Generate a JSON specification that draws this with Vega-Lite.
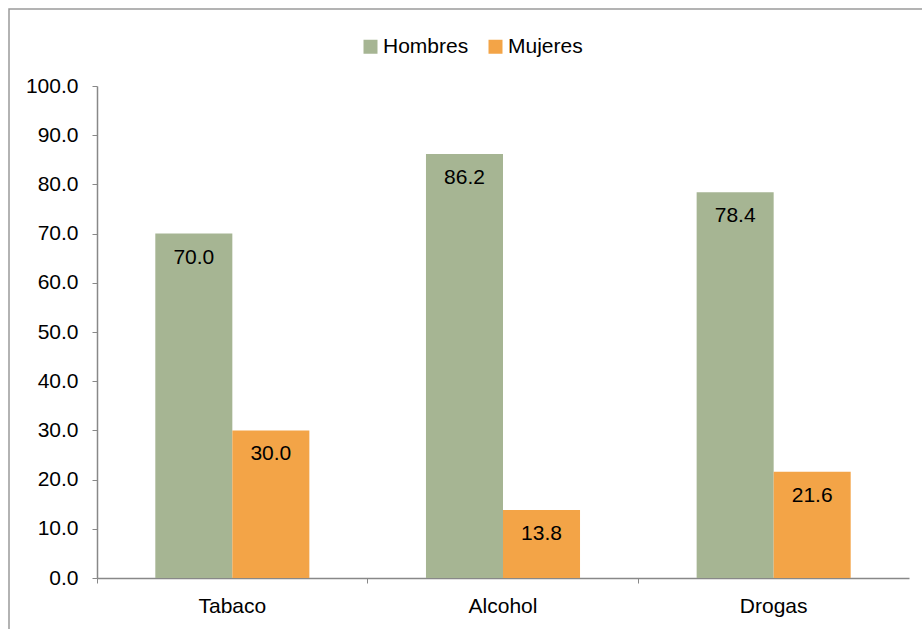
{
  "$schema": "https://vega.github.io/schema/vega-lite/v6.json",
  "width": 920,
  "height": 625,
  "autosize": {"type": "none"},
  "padding": {"left": 9, "top": 9, "right": 0, "bottom": 0},
  "background": "white",
  "config": {
    "view": {"stroke": "#9a9a9a", "strokeWidth": 1.5},
    "font": "Liberation Sans",
    "axis": {"labelFont": "Liberation Sans", "labelColor": "#000000", "labelFontSize": 21, "domainColor": "#888888", "tickColor": "#888888", "grid": false, "title": null}
  },
  "data": {
    "values": [
      {"cat": "Tabaco", "sexo": "Hombres", "valor": 70.0},
      {"cat": "Tabaco", "sexo": "Mujeres", "valor": 30.0},
      {"cat": "Alcohol", "sexo": "Hombres", "valor": 86.2},
      {"cat": "Alcohol", "sexo": "Mujeres", "valor": 13.8},
      {"cat": "Drogas", "sexo": "Hombres", "valor": 78.4},
      {"cat": "Drogas", "sexo": "Mujeres", "valor": 21.6}
    ]
  },
  "encoding": {
    "x": {
      "field": "cat", "type": "nominal", "sort": ["Tabaco", "Alcohol", "Drogas"],
      "scale": {"range": [88, 900], "paddingInner": 0, "paddingOuter": 0},
      "axis": {"offset": -56, "labelAngle": 0, "bandPosition": 0, "tickSize": 5, "labelPadding": 12, "domainWidth": 1.5}
    },
    "xOffset": {
      "field": "sexo", "type": "nominal", "sort": ["Hombres", "Mujeres"],
      "scale": {"paddingOuter": 0.757, "paddingInner": 0}
    },
    "y": {
      "field": "valor", "type": "quantitative",
      "scale": {"domain": [0, 100], "range": [569, 77], "nice": false, "zero": true},
      "axis": {"offset": -88, "values": [0, 10, 20, 30, 40, 50, 60, 70, 80, 90, 100], "format": ".1f", "tickSize": 5, "labelPadding": 14, "domainWidth": 1.5}
    }
  },
  "layer": [
    {
      "mark": {"type": "bar"},
      "encoding": {
        "color": {
          "field": "sexo", "type": "nominal", "sort": ["Hombres", "Mujeres"],
          "scale": {"domain": ["Hombres", "Mujeres"], "range": ["#A6B593", "#F3A447"]},
          "legend": {
            "title": null, "orient": "none", "direction": "horizontal",
            "legendX": 351, "legendY": 27,
            "symbolType": "square", "symbolSize": 196, "symbolStrokeWidth": 0,
            "labelFontSize": 21, "labelFont": "Liberation Sans", "labelColor": "#000000",
            "labelOffset": 2, "columnPadding": 16
          }
        }
      }
    },
    {
      "mark": {"type": "text", "dy": 24, "baseline": "middle", "fontSize": 21, "font": "Liberation Sans", "color": "#000000"},
      "encoding": {
        "text": {"field": "valor", "type": "quantitative", "format": ".1f"}
      }
    }
  ]
}
